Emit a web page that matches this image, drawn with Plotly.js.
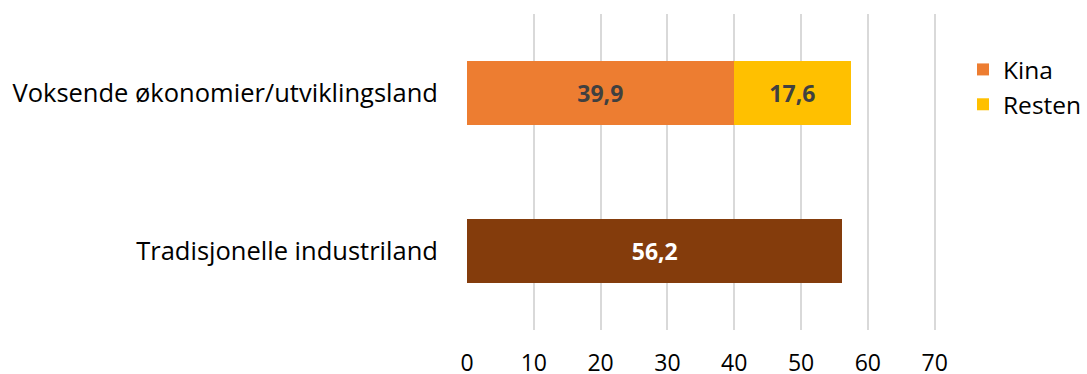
<!DOCTYPE html>
<html>
<head>
<meta charset="utf-8">
<script src="https://cdn.plot.ly/plotly-3.0.1.min.js"></script>
<style>
  html, body { margin: 0; padding: 0; background: #fff; }
  #chart { width: 1087px; height: 374px; }
</style>
</head>
<body>
<div id="chart"></div>
<script>
// Regions shown as horizontal bars
const categories = ['Tradisjonelle industriland', 'Voksende økonomier/utviklingsland'];

// Stacked segments for emerging economies
const kinaValues = [39.9];
const restenValues = [17.6];

// Single bar for traditional industrial countries
const industrilandValues = [56.2];

const xTicks = [0, 10, 20, 30, 40, 50, 60, 70];

const FONT = '"Open Sans", "Noto Sans", sans-serif';

function barLabel(color) {
  return { family: FONT, size: 23, color: color, weight: 'bold' };
}

const traces = [
  {
    type: 'bar', orientation: 'h', name: 'Kina',
    y: [categories[1]], x: kinaValues,
    marker: { color: '#ED7D31' },
    texttemplate: '%{x:.1f}', textposition: 'inside', insidetextanchor: 'middle',
    textfont: barLabel('#404040'), constraintext: 'none',
    hoverinfo: 'skip'
  },
  {
    type: 'bar', orientation: 'h', name: 'Resten',
    y: [categories[1]], x: restenValues,
    marker: { color: '#FFC000' },
    texttemplate: '%{x:.1f}', textposition: 'inside', insidetextanchor: 'middle',
    textfont: barLabel('#404040'), constraintext: 'none',
    hoverinfo: 'skip'
  },
  {
    type: 'bar', orientation: 'h', name: 'Industriland', showlegend: false,
    y: [categories[0]], x: industrilandValues,
    marker: { color: '#843C0C' },
    texttemplate: '%{x:.1f}', textposition: 'inside', insidetextanchor: 'middle',
    textfont: barLabel('#FFFFFF'), constraintext: 'none',
    hoverinfo: 'skip'
  }
];

const layout = {
  width: 1087, height: 374,
  margin: { l: 467, r: 151, t: 14, b: 44 },
  paper_bgcolor: '#fff', plot_bgcolor: '#fff',
  barmode: 'stack',
  bargap: 0.595,
  separators: ',.',
  font: { family: FONT, size: 24, color: '#000' },
  xaxis: {
    range: [0, 70.2], tickvals: xTicks, ticktext: xTicks.map(String),
    showgrid: true, gridcolor: '#D9D9D9', gridwidth: 2,
    zeroline: false, showline: false,
    ticks: 'outside', ticklen: 12, tickcolor: 'rgba(0,0,0,0)',
    tickfont: { family: FONT, size: 23, color: '#000' },
    automargin: false, fixedrange: true
  },
  yaxis: {
    type: 'category', categoryorder: 'array', categoryarray: categories,
    showgrid: false, zeroline: false, showline: false,
    ticks: 'outside', ticklen: 23, tickcolor: 'rgba(0,0,0,0)',
    tickfont: { family: FONT, size: 25.5, color: '#000' },
    automargin: false, fixedrange: true
  },
  showlegend: true,
  legend: {
    xref: 'container', yref: 'container',
    x: 963 / 1087, y: 1 - 47 / 374, xanchor: 'left', yanchor: 'top',
    font: { family: FONT, size: 24.5, color: '#000' },
    tracegroupgap: 0, itemwidth: 30, traceorder: 'normal',
    bgcolor: 'rgba(0,0,0,0)'
  }
};

Plotly.newPlot('chart', traces, layout, { displayModeBar: false, staticPlot: true });
</script>
</body>
</html>
